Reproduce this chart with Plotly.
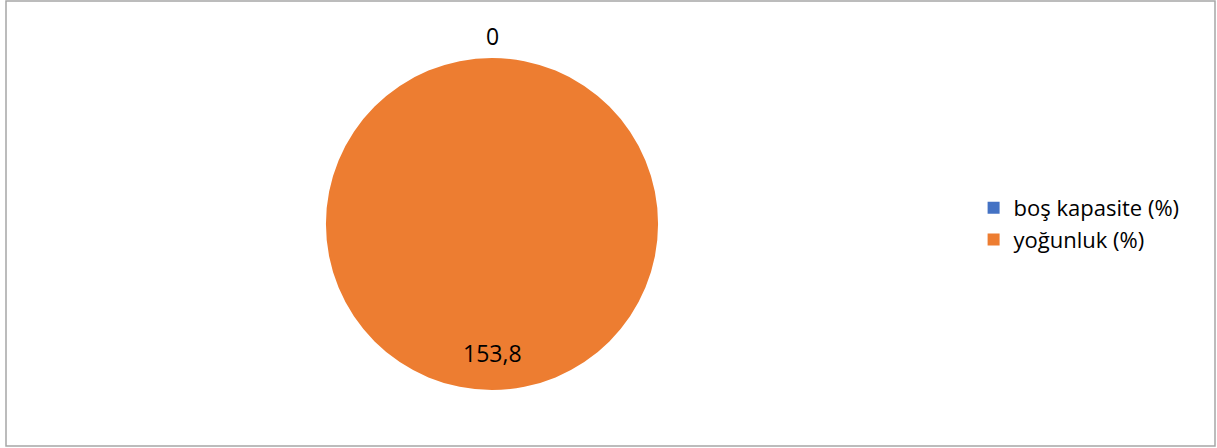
import math
import plotly.graph_objects as go

categories = ["boş kapasite (%)", "yoğunluk (%)"]
values = [0, 153.8]
colors = ["#4472C4", "#ED7D31"]

W, H = 1217, 448
cx, cy, R = 492, 224, 166  # pie centre / radius in pixels
dom_x = [(cx - R) / W, (cx + R) / W]
dom_y = [(H - cy - R) / H, (H - cy + R) / H]

FONT = "Open Sans"

fig = go.Figure(
    go.Pie(
        labels=categories,
        values=values,
        marker=dict(colors=colors, line=dict(width=0)),
        sort=False,
        direction="clockwise",
        rotation=0,
        textinfo="none",
        hoverinfo="label+value",
        domain=dict(x=dom_x, y=dom_y),
    )
)

# data labels placed at each slice's mid angle (Excel style)
total = sum(values)
cum = 0
annotations = []
for v in values:
    mid = (cum + v / 2) / total * 2 * math.pi
    cum += v
    frac = 1.13 if v == 0 else 0.78
    px = cx + frac * R * math.sin(mid)
    py = cy - frac * R * math.cos(mid)
    txt = ("%g" % v).replace(".", ",")
    annotations.append(
        dict(
            x=px / W, y=1 - py / H, xref="paper", yref="paper",
            text=txt, showarrow=False, xanchor="center", yanchor="middle",
            font=dict(family=FONT, size=23, color="#000000"),
        )
    )

fig.update_layout(
    width=W,
    height=H,
    margin=dict(l=0, r=0, t=0, b=0),
    paper_bgcolor="white",
    plot_bgcolor="white",
    separators=", ",
    showlegend=True,
    legend=dict(
        x=0.8, y=1 - 224 / H, xanchor="left", yanchor="middle",
        font=dict(family=FONT, size=22, color="#000000"),
        bgcolor="rgba(0,0,0,0)",
        itemclick=False,
    ),
    annotations=annotations,
    shapes=[
        dict(
            type="rect", xref="paper", yref="paper",
            x0=6 / W, x1=1215 / W, y0=1 - 446 / H, y1=1 - 1 / H,
            line=dict(color="#A6A6A6", width=1.5),
            fillcolor="rgba(0,0,0,0)",
            layer="below",
        )
    ],
)

fig.write_html(
    "out.html",
    config={"displayModeBar": False},
    post_script="document.body.style.margin='0';",
)
